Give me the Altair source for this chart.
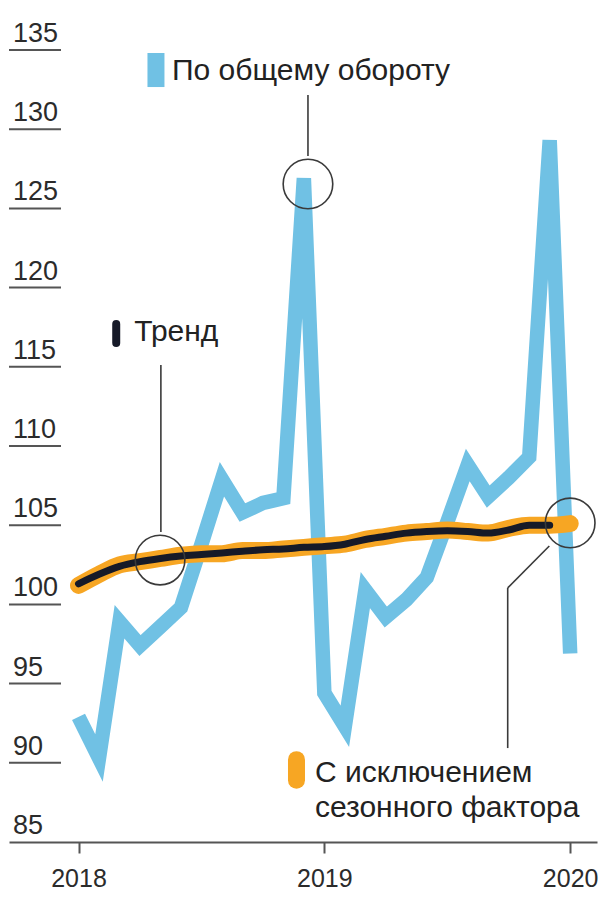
import altair as alt
import pandas as pd

# ---- data ----
months = ["2018-01", "2018-02", "2018-03", "2018-04", "2018-05", "2018-06",
          "2018-07", "2018-08", "2018-09", "2018-10", "2018-11", "2018-12",
          "2019-01", "2019-02", "2019-03", "2019-04", "2019-05", "2019-06",
          "2019-07", "2019-08", "2019-09", "2019-10", "2019-11", "2019-12",
          "2020-01"]
total = [92.9, 90.3, 98.9, 97.4, 98.6, 99.8, 103.8, 107.9, 105.8, 106.4, 106.7, 126.9,
         94.4, 92.3, 100.9, 99.2, 100.3, 101.7, 105.2, 108.8, 106.8, 108.0, 109.3, 129.3,
         96.9]
seasonal = [101.2, 101.9, 102.5, 102.7, 102.9, 103.1, 103.2, 103.2, 103.4, 103.4, 103.5, 103.6,
            103.7, 103.8, 104.1, 104.3, 104.5, 104.6, 104.7, 104.6, 104.5, 104.8, 105.0, 105.0,
            105.1]
trend = [101.3, 101.9, 102.4, 102.7, 102.9, 103.05, 103.15, 103.25, 103.35, 103.45, 103.5, 103.6,
         103.65, 103.8, 104.1, 104.3, 104.5, 104.6, 104.65, 104.6, 104.5, 104.7, 105.0, 105.0]

y_ticks = [85, 90, 95, 100, 105, 110, 115, 120, 125, 130, 135]
y_labels = ["85", "90", "95", "100", "105", "110", "115", "120", "125", "130", "135"]
x_ticks = [0, 12, 24]
x_tick_labels = ["2018", "2019", "2020"]

# ---- tables ----
idx = list(range(len(months)))
df_total = pd.DataFrame({"m": idx, "v": total})
df_seas = pd.DataFrame({"m": idx, "v": seasonal})
df_trend = pd.DataFrame({"m": idx[:len(trend)], "v": trend})
df_yt = pd.DataFrame({"v": y_ticks, "label": y_labels})

XS = alt.Scale(domain=[-3.394, 25.309], nice=False, zero=False)
YS = alt.Scale(domain=[85, 137.65], nice=False, zero=False)

BLUE = "#70c1e4"
ORANGE = "#f7a623"
BLACK = "#161a28"
INK = "#222222"
FONT = "Liberation Sans, Arial, sans-serif"

label_expr = ("datum.value == 0 ? '" + x_tick_labels[0] + "' : datum.value == 12 ? '"
              + x_tick_labels[1] + "' : '" + x_tick_labels[2] + "'")
x_axis = alt.Axis(values=x_ticks, title=None, grid=False, labelExpr=label_expr,
                  labelFont=FONT, labelFontSize=25, labelColor="#2b2b2b",
                  labelPadding=13, tickSize=11, tickColor="#555", tickWidth=2,
                  domainColor="#555", domainWidth=2, labelFlush=False)

no_y = alt.Y("v:Q", scale=YS, axis=None)

blue = alt.Chart(df_total).mark_line(color=BLUE, strokeWidth=14.5, strokeJoin="miter",
                                     strokeMiterLimit=4, strokeCap="butt").encode(
    x=alt.X("m:Q", scale=XS, axis=x_axis), y=no_y)
orange = alt.Chart(df_seas).mark_line(color=ORANGE, strokeWidth=17, strokeCap="round",
                                      strokeJoin="round", interpolate="monotone").encode(
    x=alt.X("m:Q", scale=XS), y=no_y)
black = alt.Chart(df_trend).mark_line(color=BLACK, strokeWidth=7, strokeCap="round",
                                      strokeJoin="round", interpolate="monotone").encode(
    x=alt.X("m:Q", scale=XS), y=no_y)

# y "axis": underlines and labels
df_under = df_yt[df_yt["v"] > 85]
under = alt.Chart(df_under).mark_rule(color="#555", strokeWidth=2).encode(
    y=alt.Y("v:Q", scale=YS, axis=None), x=alt.value(0), x2=alt.value(52))
ylab = alt.Chart(df_yt).mark_text(align="left", baseline="alphabetic", dy=-8,
                                  font=FONT, fontSize=27, color="#2b2b2b").encode(
    y=alt.Y("v:Q", scale=YS, axis=None), x=alt.value(4), text="label:N")

# annotations
df_circ = pd.DataFrame({"m": [11.2, 3.98, 24.0], "v": [126.54, 102.8, 105.14]})
circles = alt.Chart(df_circ).mark_point(shape="circle", filled=False, size=2460,
                                        stroke="#3a3a3a", strokeWidth=1.6, opacity=1).encode(
    x=alt.X("m:Q", scale=XS), y=alt.Y("v:Q", scale=YS))

df_lead = pd.DataFrame({
    "m": [11.2, 4.02, 22.98, 20.95],
    "m2": [11.2, 4.02, 20.95, 20.95],
    "v": [132.16, 115.11, 103.69, 101.04],
    "v2": [128.31, 104.57, 101.04, 90.93],
})
leads = alt.Chart(df_lead).mark_rule(color="#3a3a3a", strokeWidth=1.6).encode(
    x=alt.X("m:Q", scale=XS), x2="m2:Q", y=alt.Y("v:Q", scale=YS), y2="v2:Q")

sw_blue = alt.Chart(pd.DataFrame({"m": [3.78], "v": [132.66], "v2": [134.81]})).mark_rule(
    color=BLUE, strokeWidth=17, strokeCap="butt").encode(
    x=alt.X("m:Q", scale=XS), y=alt.Y("v:Q", scale=YS), y2="v2:Q")
sw_black = alt.Chart(pd.DataFrame({"m": [1.84], "v": [116.5], "v2": [117.7]})).mark_rule(
    color=BLACK, strokeWidth=8, strokeCap="round").encode(
    x=alt.X("m:Q", scale=XS), y=alt.Y("v:Q", scale=YS), y2="v2:Q")
sw_orange = alt.Chart(pd.DataFrame({"m": [10.64], "v": [88.9], "v2": [90.2]})).mark_rule(
    color=ORANGE, strokeWidth=17, strokeCap="round").encode(
    x=alt.X("m:Q", scale=XS), y=alt.Y("v:Q", scale=YS), y2="v2:Q")

df_txt = pd.DataFrame({
    "m": [4.56, 2.72, 11.54, 11.54],
    "v": [133.11, 116.63, 88.79, 86.58],
    "label": ["По общему обороту", "Тренд", "С исключением", "сезонного фактора"],
})
texts = alt.Chart(df_txt).mark_text(align="left", baseline="alphabetic", font=FONT,
                                    fontSize=30, color=INK).encode(
    x=alt.X("m:Q", scale=XS), y=alt.Y("v:Q", scale=YS), text="label:N")

chart = alt.layer(
    blue, orange, black, under, ylab, circles, leads, sw_blue, sw_black, sw_orange, texts
).properties(
    width=592, height=883, padding=0, background="white",
    autosize=alt.AutoSizeParams(type="fit", contains="padding"),
).configure_view(stroke=None)

chart.save("out.html", embed_options={"renderer": "svg", "actions": False})
